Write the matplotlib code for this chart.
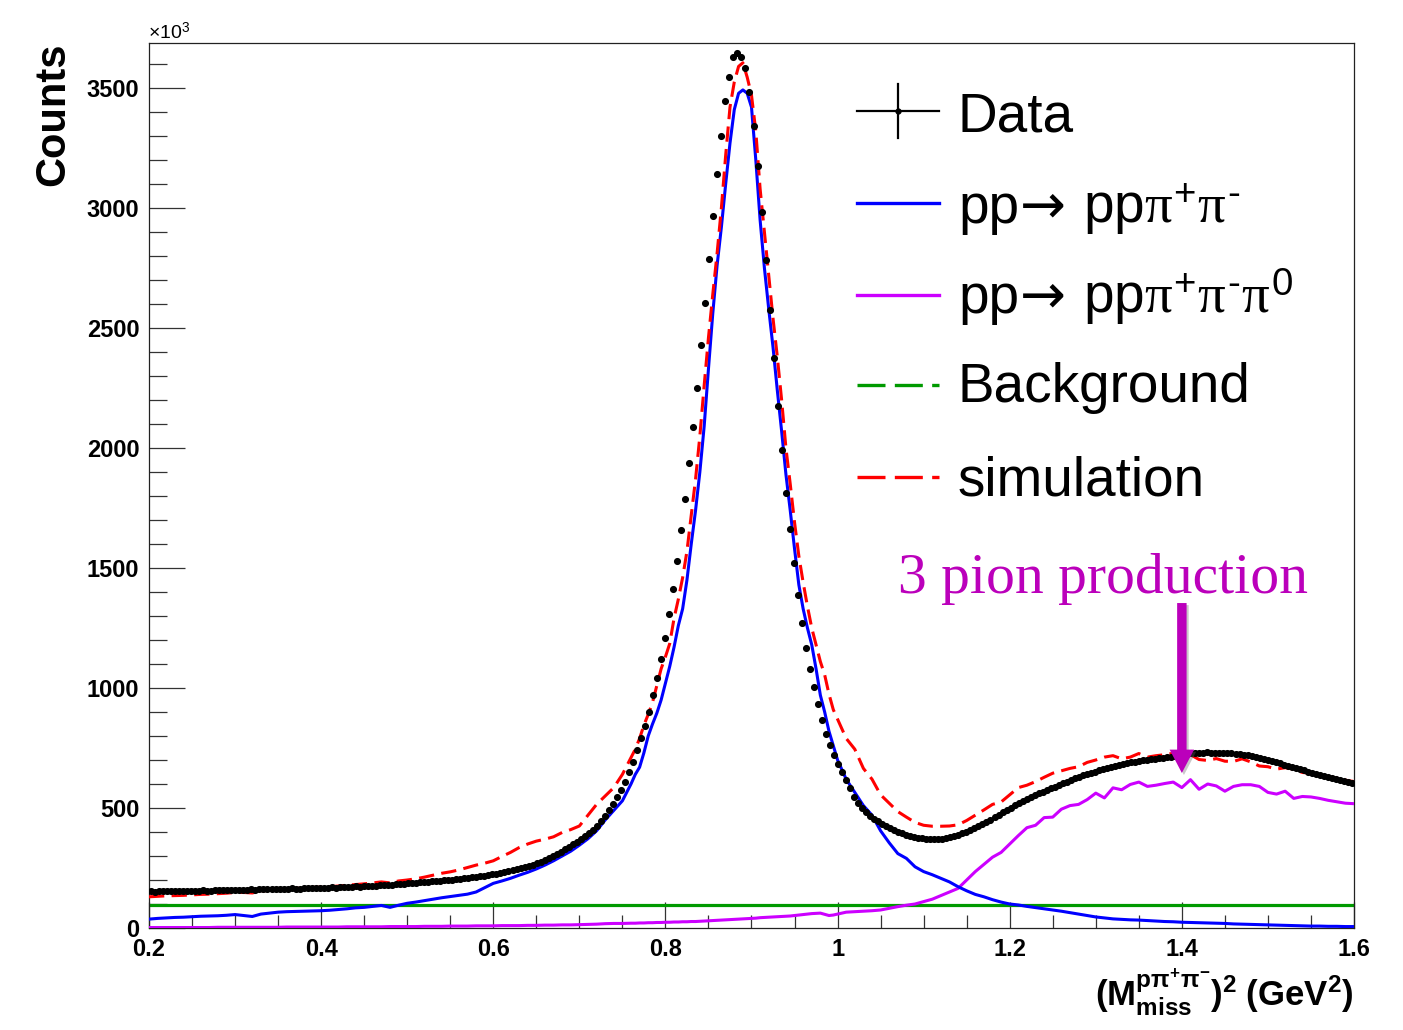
import numpy as np
import matplotlib
matplotlib.use("Agg")
import matplotlib.pyplot as plt
from matplotlib.ticker import MultipleLocator
from matplotlib.lines import Line2D
import matplotlib.patheffects as pe

plt.rcParams["font.family"] = ["Liberation Sans", "DejaVu Sans"]
plt.rcParams["mathtext.fontset"] = "custom"
plt.rcParams["mathtext.rm"] = "Liberation Sans"
plt.rcParams["mathtext.it"] = "Liberation Serif"
plt.rcParams["mathtext.bf"] = "Liberation Sans:bold"

# ---------------------------------------------------------------------------
# Measured spectrum: 300 bins over [0.2, 1.6] GeV^2, counts in units of 10^3
# ---------------------------------------------------------------------------
x_min, x_max, n_bins = 0.2, 1.6, 300
data_counts = [
    153, 152, 154, 153, 155, 154, 153, 155, 156, 154, 155, 156, 155, 157, 156,
    156, 158, 157, 157, 159, 158, 160, 159, 158, 160, 161, 160, 162, 161, 161,
    162, 163, 162, 164, 163, 165, 164, 164, 166, 165, 167, 166, 168, 167, 168,
    169, 168, 170, 171, 170, 172, 173, 172, 174, 175, 176, 176, 178, 179, 180,
    181, 182, 183, 185, 186, 187, 189, 190, 191, 193, 194, 196, 197, 199, 200,
    202, 204, 205, 207, 209, 211, 213, 215, 218, 220, 223, 226, 229, 232, 236,
    240, 244, 248, 253, 258, 263, 269, 276, 283, 291, 299, 308, 318, 328, 338,
    348, 358, 370, 383, 396, 410, 427, 446, 468, 492, 518, 546, 576, 610, 648,
    691, 742, 790, 843, 901, 971, 1040, 1121, 1207, 1307, 1411, 1529, 1657, 1789, 1936,
    2089, 2249, 2429, 2603, 2787, 2968, 3143, 3299, 3446, 3547, 3628, 3644, 3630, 3585, 3485,
    3342, 3175, 2985, 2783, 2575, 2376, 2176, 1992, 1814, 1661, 1520, 1387, 1270, 1168, 1078,
    1003, 932, 867, 807, 761, 721, 683, 649, 617, 582, 547, 520, 500, 484, 468,
    456, 444, 434, 425, 416, 408, 401, 395, 389, 384, 380, 376, 373, 371, 369,
    369, 370, 372, 375, 379, 383, 389, 395, 401, 408, 416, 424, 433, 442, 452,
    462, 472, 482, 492, 502, 511, 520, 529, 537, 545, 553, 561, 568, 575, 582,
    589, 596, 603, 610, 617, 623, 630, 636, 641, 647, 652, 657, 662, 667, 671,
    675, 679, 683, 687, 690, 693, 696, 699, 701, 704, 706, 708, 710, 712, 714,
    717, 719, 722, 725, 728, 730, 731, 731, 732, 731, 731, 730, 729, 729, 728,
    727, 725, 722, 719, 716, 712, 709, 705, 701, 696, 691, 686, 681, 676, 671,
    667, 662, 657, 652, 647, 642, 637, 633, 628, 624, 619, 615, 611, 607, 604,
]

# ---------------------------------------------------------------------------
# Simulated components, sampled on a grid that is finer across the peak
# ---------------------------------------------------------------------------
curve_x = np.round(np.concatenate([
    np.arange(0.20, 0.765, 0.01),
    np.arange(0.765, 0.9975, 0.005),
    np.arange(1.00, 1.605, 0.01),
]), 4)

# pp -> pp pi+ pi-
two_pion = [
    # 0.20 .. 0.76
    37, 40, 42, 44, 45, 47, 49, 50, 51, 53,
    56, 52, 48, 58, 62, 66, 68, 69, 70, 71,
    72, 74, 77, 80, 84, 86, 90, 94, 86, 95,
    103, 108, 114, 120, 126, 131, 136, 141, 150, 168,
    186, 196, 207, 220, 232, 246, 262, 280, 300, 320,
    345, 372, 405, 450, 490, 530, 600,
    # 0.765 .. 0.995
    640, 670, 730, 800, 850, 895, 950, 1020, 1090, 1170,
    1260, 1330, 1450, 1600, 1740, 1900, 2090, 2330, 2560, 2760,
    2920, 3100, 3270, 3410, 3478, 3492, 3478, 3420, 3200, 2950,
    2750, 2580, 2420, 2240, 2070, 1890, 1740, 1580, 1430, 1330,
    1250, 1180, 1080, 970, 900, 820, 760,
    # 1.00 .. 1.60
    700, 620, 565, 510, 470, 405, 355, 310, 290, 255,
    235, 222, 207, 192, 172, 155, 140, 130, 118, 108,
    100, 96, 90, 85, 80, 75, 70, 64, 58, 52,
    46, 42, 38, 36, 34, 33, 31, 29, 27, 26,
    24, 23, 22, 21, 20, 19, 17, 16, 15, 14,
    13, 12, 11, 10, 9, 8, 8, 7, 7, 6, 6,
]

# pp -> pp pi+ pi- pi0
three_pion = [
    # 0.20 .. 0.76
    2, 2, 2, 2, 2, 2, 2, 2, 3, 3,
    3, 3, 3, 3, 3, 3, 4, 4, 4, 4,
    4, 4, 4, 5, 5, 5, 5, 5, 6, 6,
    6, 6, 7, 7, 7, 8, 8, 8, 9, 9,
    9, 10, 10, 10, 11, 11, 12, 12, 13, 13,
    14, 15, 16, 18, 19, 19, 20,
    # 0.765 .. 0.995
    20, 21, 21, 22, 22, 23, 23, 24, 24, 25,
    25, 26, 26, 27, 27, 28, 29, 30, 31, 32,
    33, 34, 35, 36, 37, 38, 39, 40, 41, 43,
    44, 45, 46, 47, 48, 49, 50, 52, 54, 56,
    58, 60, 61, 62, 57, 52, 54,
    # 1.00 .. 1.60
    58, 66, 68, 70, 72, 75, 82, 89, 95, 100,
    110, 120, 135, 150, 165, 200, 235, 265, 295, 315,
    350, 385, 418, 428, 460, 462, 495, 510, 515, 535,
    562, 542, 584, 576, 598, 608, 590, 595, 602, 608,
    585, 618, 578, 600, 592, 570, 590, 597, 597, 590,
    565, 558, 570, 540, 548, 546, 540, 532, 526, 520, 518,
]

# total simulation
simulation = [
    # 0.20 .. 0.76
    130, 132, 134, 135, 136, 138, 140, 141, 143, 145,
    148, 148, 146, 154, 157, 160, 163, 165, 167, 169,
    170, 172, 175, 178, 181, 184, 188, 192, 188, 196,
    200, 205, 212, 220, 228, 234, 242, 252, 262, 270,
    280, 298, 315, 335, 350, 362, 370, 380, 398, 410,
    425, 470, 515, 550, 585, 640, 710,
    # 0.765 .. 0.995
    745, 790, 845, 890, 940, 1010, 1080, 1130, 1185, 1290,
    1370, 1460, 1570, 1720, 1870, 2050, 2260, 2460, 2640, 2810,
    3000, 3220, 3420, 3525, 3590, 3605, 3545, 3470, 3320, 3080,
    2900, 2720, 2540, 2380, 2200, 2000, 1850, 1690, 1550, 1440,
    1340, 1250, 1180, 1110, 1055, 975, 910,
    # 1.00 .. 1.60
    870, 790, 745, 665, 620, 555, 520, 485, 462, 440,
    428, 424, 424, 425, 430, 448, 470, 492, 515, 525,
    555, 585, 595, 610, 628, 645, 655, 665, 672, 690,
    700, 712, 718, 705, 712, 727, 712, 718, 722, 728,
    725, 722, 702, 698, 706, 695, 694, 705, 692, 675,
    672, 662, 668, 662, 648, 645, 638, 630, 625, 616, 610,
]

background_level = 95

assert len(data_counts) == n_bins
assert len(two_pion) == len(three_pion) == len(simulation) == len(curve_x)

bin_width = (x_max - x_min) / n_bins
bin_centers = x_min + bin_width * (np.arange(n_bins) + 0.5)

# ---------------------------------------------------------------------------
W, H = 1403, 1030
fig = plt.figure(figsize=(W / 100, H / 100), dpi=100)
ax = fig.add_axes([149 / W, 1 - 928 / H, (1354 - 149) / W, (928 - 43) / H])

BLUE = "#0000FF"
VIOLET = "#CC00FF"
GREEN = "#009A00"
RED = "#FF0000"
ANNOT = "#BB00BB"

ax.axhline(background_level, color=GREEN, lw=2.3, zorder=2)
ax.plot(curve_x, three_pion, color=VIOLET, lw=2.2, zorder=3)
ax.plot(curve_x, two_pion, color=BLUE, lw=2.2, zorder=4)
ax.plot(curve_x, simulation, color=RED, lw=2.2, dashes=(5.0, 2.4), zorder=5)
ax.errorbar(bin_centers, data_counts, xerr=bin_width / 2, fmt="o", ms=4.1,
            color="black", mec="black", elinewidth=1.0, capsize=0, zorder=6)

ax.set_xlim(x_min, x_max)
ax.set_ylim(0, 3687.5)

ax.xaxis.set_major_locator(MultipleLocator(0.2))
ax.xaxis.set_minor_locator(MultipleLocator(0.05))
ax.yaxis.set_major_locator(MultipleLocator(500))
ax.yaxis.set_minor_locator(MultipleLocator(100))
ax.xaxis.set_major_formatter(plt.FuncFormatter(lambda v, p: f"{v:g}"))
ax.tick_params(axis="both", which="both", direction="in", top=False, right=False,
               color="#333333", width=0.9)
ax.tick_params(axis="x", which="major", length=18.7, pad=7, labelsize=17)
ax.tick_params(axis="x", which="minor", length=9.4)
ax.tick_params(axis="y", which="major", length=26, pad=7, labelsize=17)
ax.tick_params(axis="y", which="minor", length=13)
for lab in ax.get_xticklabels() + ax.get_yticklabels():
    lab.set_fontweight("bold")
for sp in ax.spines.values():
    sp.set_linewidth(0.9)
    sp.set_color("#222222")

# axis titles
fig.text(53 / W, 1 - 42 / H, "Counts", rotation=90, ha="center", va="top",
         fontsize=30, fontweight="bold")
fig.text(1354 / W, 1 - 1007 / H,
         r"$\mathbf{(M^{p\pi^{+}\pi^{-}}_{miss})^{2}\ (GeV^{2})}$",
         ha="right", va="baseline", fontsize=25)
fig.text(148 / W, 1 - 39 / H, r"$\times$10$^{3}$", ha="left", va="baseline",
         fontsize=14)

# annotation of the three-pion region
ax.text(1.0702, 1396, "3 pion production", color=ANNOT, fontsize=41.5,
        family="Liberation Serif", ha="left", va="baseline", zorder=7)
ax.annotate("", xy=(1.4, 646), xytext=(1.4, 1354),
            arrowprops=dict(arrowstyle="simple,head_length=0.42,head_width=0.44,tail_width=0.17",
                            mutation_scale=40, color=ANNOT, lw=0, shrinkA=0, shrinkB=0,
                            path_effects=[pe.SimplePatchShadow(offset=(1.5, -1.5),
                                                               shadow_rgbFace="0.4",
                                                               alpha=0.35),
                                          pe.Normal()]),
            zorder=8)

# legend
def fxy(px, py):
    return px / W, 1 - py / H

LEG_FS = 39.5
renderer = fig.canvas.get_renderer()


def chained_label(x_px, base_py, parts):
    """Write consecutive pieces of one label on a common baseline."""
    for text, kw, gap in parts:
        t = fig.text(x_px / W, 1 - base_py / H, text, fontsize=LEG_FS,
                     ha="left", va="baseline", **kw)
        x_px += t.get_window_extent(renderer=renderer).width + gap


h0, h1, txt_x = 857, 939, 958
arrow_kw = dict(family="DejaVu Sans")
labels = [
    [("Data", {}, 0)],
    [("pp", {}, 1), ("\u2192", arrow_kw, 17), ("pp$\\pi^{+}\\pi^{\\text{-}}$", {}, 0)],
    [("pp", {}, 1), ("\u2192", arrow_kw, 17),
     ("pp$\\pi^{+}\\pi^{\\text{-}}\\pi^{0}$", {}, 0)],
    [("Background", {}, 0)],
    [("simulation", {}, 0)],
]
baselines = [132, 223, 313, 402, 495]
handle_y = [111, 203, 295, 385, 477]

for parts, base in zip(labels, baselines):
    chained_label(txt_x, base, parts)


def hline(py, **kw):
    (xa, ya), (xb, yb) = fxy(h0, py), fxy(h1, py)
    fig.add_artist(Line2D([xa, xb], [ya, yb], transform=fig.transFigure, **kw))


hline(handle_y[0], color="black", lw=1.6)
(xa, ya), (xb, yb) = fxy(898, 84), fxy(898, 138)
fig.add_artist(Line2D([xa, xb], [ya, yb], transform=fig.transFigure, color="black", lw=1.6))
xm, ym = fxy(898, 111)
fig.add_artist(Line2D([xm], [ym], transform=fig.transFigure, marker="o", ms=3.5,
                      color="black"))
hline(handle_y[1], color=BLUE, lw=2.4)
hline(handle_y[2], color=VIOLET, lw=2.4)
hline(handle_y[3], color=GREEN, lw=2.4, dashes=(8.4, 2.8))
hline(handle_y[4], color=RED, lw=2.4, dashes=(8.4, 2.8))

fig.savefig("out.png", dpi=100)
